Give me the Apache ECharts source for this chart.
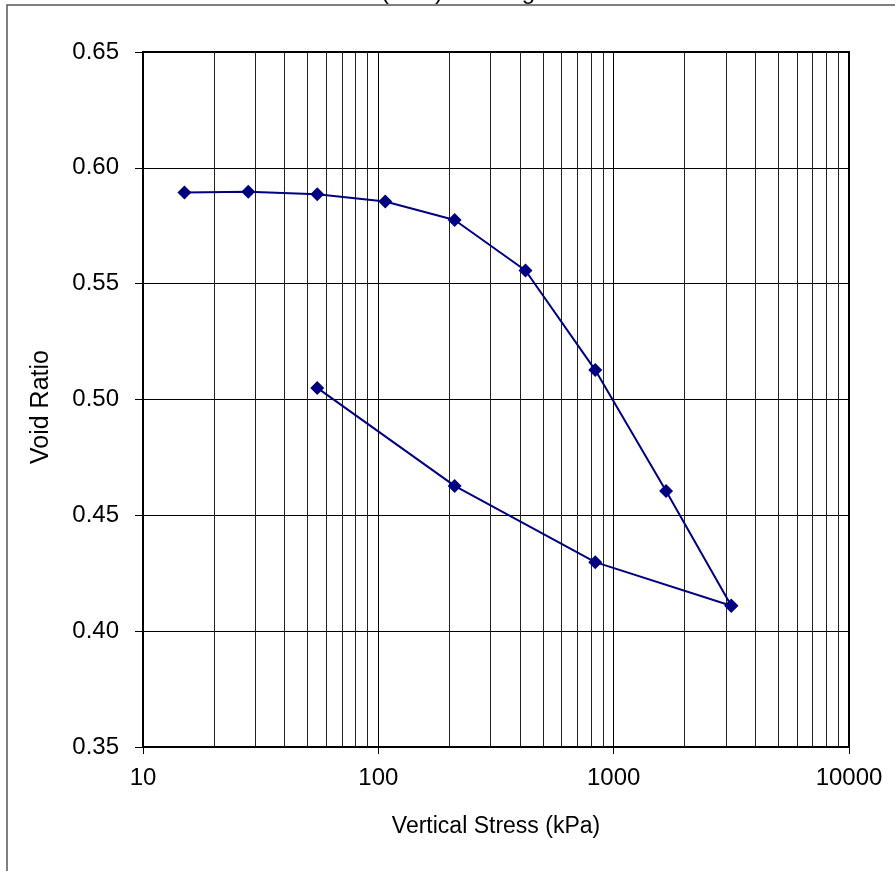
<!DOCTYPE html>
<html>
<head>
<meta charset="utf-8">
<script src="https://cdn.jsdelivr.net/npm/echarts@6/dist/echarts.min.js"></script>
<style>
html,body{margin:0;padding:0;background:#fff;}
#chart{width:895px;height:871px;}
</style>
</head>
<body>
<div id="chart"></div>
<script>
// Loading branch
var loadStress = [15, 28, 55, 107, 211, 422, 835, 1670, 3160];
var loadVoid   = [0.5893, 0.5897, 0.5886, 0.5855, 0.5775, 0.5557, 0.5127, 0.4605, 0.4110];
// Unloading branch
var unloadStress = [3160, 835, 211, 55];
var unloadVoid   = [0.4110, 0.4298, 0.4627, 0.5050];
// Minor vertical grid positions (log decades)
var minorGrid = [20,30,40,50,60,70,80,90,200,300,400,500,600,700,800,900,2000,3000,4000,5000,6000,7000,8000,9000];

function pairs(xs, ys){ return xs.map(function(x,i){ return [x, ys[i]]; }); }

var chart = echarts.init(document.getElementById('chart'));
var font = 'Liberation Sans, Arial, sans-serif';
var navy = '#000080';

chart.setOption({
  animation: false,
  backgroundColor: '#fff',
  graphic: [
    { type: 'rect', shape: { x: 7, y: 5, width: 1000, height: 1000 }, style: { fill: 'none', stroke: '#555', lineWidth: 1.5 }, z: -1 },
    { type: 'text', x: 381, y: 4, style: {
        text: "(σ'{sub|100}) Loading", rich: { sub: { fontSize: 16, fontFamily: font, fill: '#000', verticalAlign: 'bottom' } },
        fontSize: 24, fontFamily: font, fill: '#000', align: 'left', verticalAlign: 'bottom' } }
  ],
  grid: { left: 143, right: 46, top: 52, bottom: 124, show: true, borderColor: '#000', borderWidth: 2, backgroundColor: 'transparent' },
  xAxis: {
    type: 'log', logBase: 10, min: 10, max: 10000,
    name: 'Vertical Stress (kPa)', nameLocation: 'middle', nameGap: 68,
    nameTextStyle: { fontSize: 23, fontFamily: font, color: '#000' },
    axisLine: { show: true, lineStyle: { color: '#000', width: 2 } },
    axisTick: { show: true, length: 7, lineStyle: { color: '#000', width: 1 } },
    axisLabel: { fontSize: 24, fontFamily: font, color: '#000', margin: 19,
      formatter: function(v){ return String(Math.round(v)); } },
    splitLine: { show: true, lineStyle: { color: '#000', width: 1 } },
    minorTick: { show: false }, minorSplitLine: { show: false }
  },
  yAxis: {
    type: 'value', min: 0.35, max: 0.65, interval: 0.05,
    name: 'Void Ratio', nameLocation: 'middle', nameGap: 89, nameRotate: 90,
    nameTextStyle: { fontSize: 25, fontFamily: font, color: '#000', padding: [0, 15, 0, 0] },
    axisLine: { show: true, lineStyle: { color: '#000', width: 2 } },
    axisTick: { show: true, length: 8, lineStyle: { color: '#000', width: 1 } },
    axisLabel: { fontSize: 24, fontFamily: font, color: '#000', margin: 24,
      formatter: function(v){ return v.toFixed(2); } },
    splitLine: { show: true, lineStyle: { color: '#000', width: 1 } }
  },
  series: [
    {
      type: 'line', name: 'Loading', data: pairs(loadStress, loadVoid),
      symbol: 'diamond', symbolSize: 14,
      lineStyle: { color: navy, width: 2 }, itemStyle: { color: navy },
      z: 5,
      markLine: {
        silent: true, symbol: 'none', label: { show: false },
        lineStyle: { color: '#222', width: 1, type: 'solid' },
        data: minorGrid.map(function(v){ return { xAxis: v }; }),
        z: 1
      }
    },
    {
      type: 'line', name: 'Unloading', data: pairs(unloadStress, unloadVoid),
      symbol: 'diamond', symbolSize: 14,
      lineStyle: { color: navy, width: 2 }, itemStyle: { color: navy },
      z: 5
    }
  ]
});
</script>
</body>
</html>
